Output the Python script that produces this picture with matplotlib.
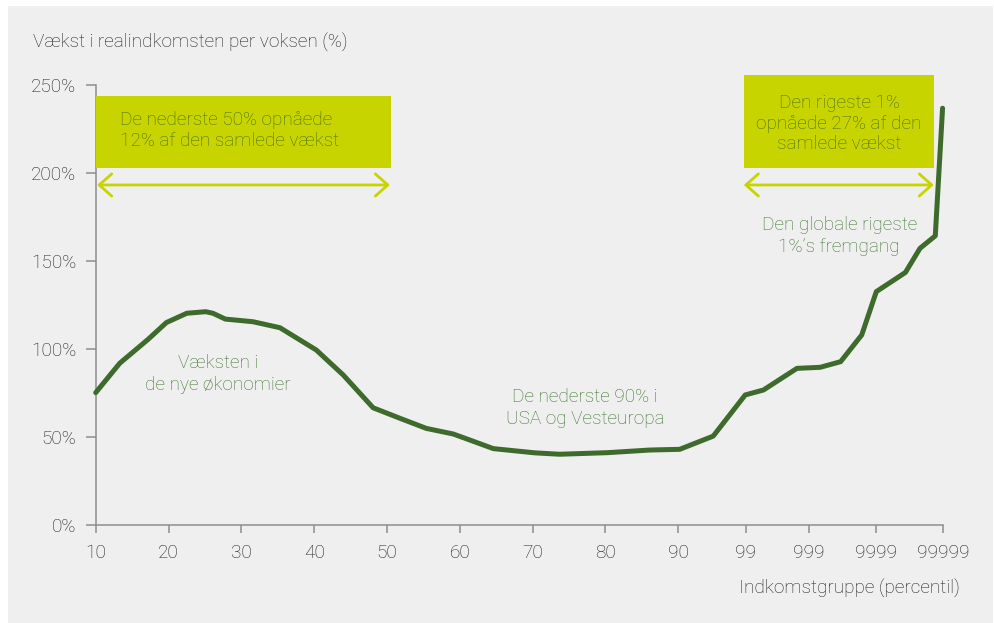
import matplotlib
matplotlib.use("Agg")
import matplotlib.pyplot as plt
from matplotlib.patches import Rectangle

plt.rcParams['font.family'] = ['Roboto', 'DejaVu Sans']
plt.rcParams['font.weight'] = 'light'

# Curve data (x in percentile-axis units, y in % growth)
pct = [10, 13.3, 17.2, 19.7, 22.5, 25.1, 26.1, 27.8, 31.6, 35.3, 40.3, 44.0, 48.1,
       51.8, 55.4, 59.1, 61.1, 64.6, 70.3, 73.7, 80.3, 86.1, 90.2, 94.8,
       99.2, 101.7, 106.3, 109.5, 112.3, 115.2, 117.2, 121.2, 123.2, 125.3, 126.3]
growth = [75.2, 91.9, 105.5, 115, 120.3, 121.2, 120.3, 117, 115.5, 112.1, 99.4, 85.2, 66.6,
          60.6, 54.9, 51.7, 48.7, 43.4, 41, 40.2, 41.1, 42.6, 43.0, 50.5,
          73.9, 76.7, 89, 89.6, 92.8, 108, 132.6, 143.5, 157.2, 164.3, 236.8]

xtick_pos = [10, 20, 30, 40, 50, 60, 70, 80, 90, 99.25, 107.98, 117.2, 126.4]
xtick_labels = ['10', '20', '30', '40', '50', '60', '70', '80', '90', '99', '999', '9999', '99999']
yticks = [0, 50, 100, 150, 200, 250]

FS = 13.7
W, H = 995, 623
fig = plt.figure(figsize=(W / 100, H / 100), dpi=100, facecolor='white')
fig.patches.append(Rectangle((8 / W, 0), (993 - 8) / W, 1 - 6 / H, transform=fig.transFigure,
                             facecolor='#efefef', edgecolor='none', zorder=-10))

ax = fig.add_axes([95.7 / W, 1 - 525 / H, (943.3 - 95.7) / W, (525 - 85) / H])
ax.set_facecolor('none')
ax.set_xlim(10, 126.4)
ax.set_ylim(0, 250)

spine_c = '#8e8e8e'
for s in ['top', 'right']:
    ax.spines[s].set_visible(False)
for s in ['left', 'bottom']:
    ax.spines[s].set_color(spine_c)
    ax.spines[s].set_linewidth(1.1)

ax.set_xticks(xtick_pos)
ax.set_xticklabels(xtick_labels)
ax.set_yticks(yticks)
ax.set_yticklabels([f'{v}%' for v in yticks])
ax.tick_params(axis='both', color=spine_c, width=1.1)
ax.tick_params(axis='both', labelcolor='#1e1e1e', labelsize=FS)
ax.tick_params(axis='x', length=6, pad=8)
ax.tick_params(axis='y', length=7, pad=7)

ax.plot(pct, growth, color='#3e6b2b', lw=3.6, solid_capstyle='round', solid_joinstyle='round',
        clip_on=False, zorder=5)

box_c = '#c8d400'
ax.add_patch(Rectangle((10, 203.0), 50.5 - 10, 243.8 - 203.0, facecolor=box_c, edgecolor='none',
                       clip_on=False, zorder=3))
ax.add_patch(Rectangle((98.97, 203.0), 125.1 - 98.97, 255.7 - 203.0, facecolor=box_c,
                       edgecolor='none', clip_on=False, zorder=3))

box_txt = '#4a6c0c'
ax.text(13.4, 224.1, 'De nederste 50% opnåede\n12% af den samlede vækst', ha='left', va='center',
        fontsize=FS, color=box_txt, linespacing=1.2, zorder=4)
ax.text(112.1, 228.1, 'Den rigeste 1%\nopnåede 27% af den\nsamlede vækst', ha='center',
        va='center', fontsize=FS, color=box_txt, linespacing=1.2, zorder=4, clip_on=False)

arrow_kw = dict(arrowstyle='<->,head_length=0.45,head_width=0.4', color=box_c, lw=2.0,
                mutation_scale=20, shrinkA=0, shrinkB=0)
ax.annotate('', xy=(10.2, 193.2), xytext=(50.4, 193.2), arrowprops=arrow_kw, annotation_clip=False)
ax.annotate('', xy=(99.0, 193.2), xytext=(125.1, 193.2), arrowprops=arrow_kw, annotation_clip=False)

ann_c = '#3f7530'
ax.text(26.8, 85.8, 'Væksten i\nde nye økonomier', ha='center', va='center', fontsize=FS,
        color=ann_c, linespacing=1.25)
ax.text(77.2, 66.5, 'De nederste 90% i\nUSA og Vesteuropa', ha='center', va='center',
        fontsize=FS, color=ann_c, linespacing=1.25)
ax.text(112.1, 164.2, 'Den globale rigeste\n1%’s fremgang', ha='center', va='center',
        fontsize=FS, color=ann_c, linespacing=1.25)

fig.text(33 / W, 1 - 43 / H, 'Vækst i realindkomsten per voksen (%)', ha='left', va='center',
         fontsize=FS, color='#1e1e1e')
fig.text(960 / W, 1 - 588 / H, 'Indkomstgruppe (percentil)', ha='right', va='center',
         fontsize=FS, color='#1e1e1e')

fig.savefig('out.png', dpi=100, facecolor='white')
